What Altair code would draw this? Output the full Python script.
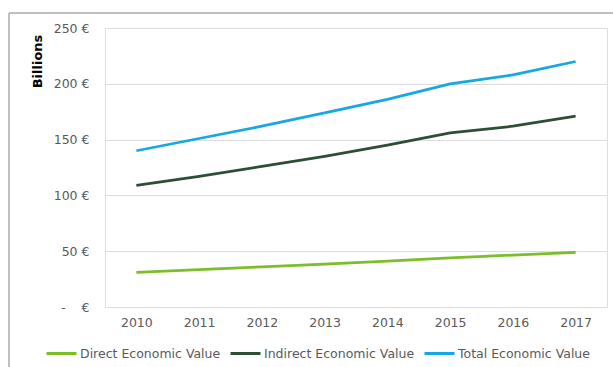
import altair as alt
import pandas as pd

years = ["2010", "2011", "2012", "2013", "2014", "2015", "2016", "2017"]
direct = [31, 33.5, 36, 38.5, 41, 44, 46.5, 49]
indirect = [109, 117, 126, 135, 145, 156, 162, 171]
total = [140, 151, 162, 174, 186, 200, 208, 220]
series_names = ["Direct Economic Value", "Indirect Economic Value", "Total Economic Value"]
series_colors = ["#7cbd2a", "#2e4d36", "#17a8e3"]

rows = []
for name, vals in zip(series_names, [direct, indirect, total]):
    for y, v in zip(years, vals):
        rows.append({"Year": y, "Value": v, "Series": name})
df = pd.DataFrame(rows)

FONT = "DejaVu Sans"
GREY = "#595959"

lines = alt.Chart(df).mark_line(strokeWidth=2.75).encode(
    x=alt.X("Year:O", scale=alt.Scale(type="point", padding=0.5),
            axis=alt.Axis(title=None, labelAngle=0, domain=False, ticks=False, grid=False,
                          labelPadding=9, labelColor=GREY, labelFontSize=12.5, labelFont=FONT)),
    y=alt.Y("Value:Q", scale=alt.Scale(domain=[0, 250]),
            axis=alt.Axis(values=[0, 50, 100, 150, 200, 250], domain=False, ticks=False,
                          labelExpr="datum.value == 0 ? '-\u00a0\u00a0\u00a0\u00a0€' : datum.value + ' €'",
                          labelPadding=16, labelColor=GREY, labelFontSize=12.5, labelFont=FONT,
                          gridColor="#dcdcdc", gridWidth=1,
                          title="Billions", titleFont=FONT, titleFontSize=13, titleFontWeight="bold",
                          titleColor="#000000", titleAngle=270, titleX=-68, titleY=33,
                          titleAlign="center", titleBaseline="middle")),
    color=alt.Color("Series:N", scale=alt.Scale(domain=series_names, range=series_colors),
                    legend=alt.Legend(title=None, orient="none", direction="horizontal",
                                      legendX=-60, legendY=309,
                                      symbolType="stroke", symbolSize=900, symbolStrokeWidth=3,
                                      labelFont=FONT, labelFontSize=12.5, labelColor=GREY,
                                      labelOffset=2, columnPadding=3, labelLimit=300)),
)

frame_top = alt.Chart(df).mark_rule(color="#bfbfbf", strokeWidth=1.5).encode(
    x=alt.value(-96), x2=alt.value(520), y=alt.value(-15))
frame_left = alt.Chart(df).mark_rule(color="#bfbfbf", strokeWidth=1.5).encode(
    x=alt.value(-96), y=alt.value(-15), y2=alt.value(360))

chart = alt.layer(frame_top, frame_left, lines).properties(
    width=502, height=279,
    autosize=alt.AutoSizeParams(type="none"),
    padding={"left": 105, "top": 28, "right": 6, "bottom": 60},
).configure_view(stroke=None, strokeWidth=0).configure(background="white")

chart.save("out.html", embed_options={"renderer": "svg", "actions": False})
